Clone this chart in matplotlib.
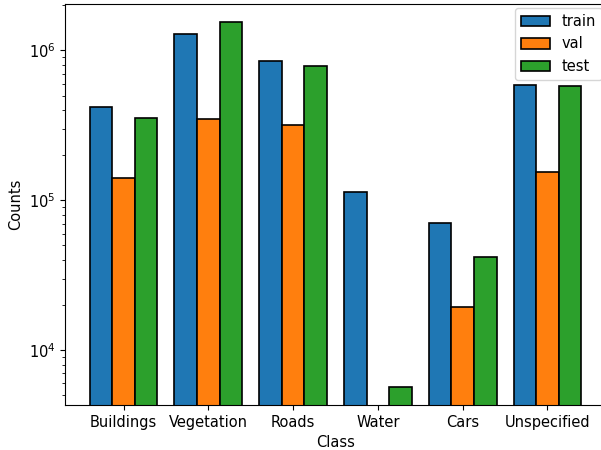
import numpy as np
import matplotlib
matplotlib.use("Agg")
import matplotlib.pyplot as plt

classes = ["Buildings", "Vegetation", "Roads", "Water", "Cars", "Unspecified"]
train = [421000, 1280000, 845000, 113000, 70300, 590000]
val = [141600, 351000, 319000, 0, 19560, 153700]
test = [354000, 1545000, 782000, 5710, 42100, 581000]

plt.rcParams['font.size'] = 10.5
fig = plt.figure(figsize=(6.01, 4.5), dpi=100)
ax = fig.add_axes([65/601, 45/450, 541/601, 401/450])

x = np.arange(len(classes))
w = 0.8 / 3
for i, (vals, lab, col) in enumerate([(train, "train", "#1f77b4"), (val, "val", "#ff7f0e"), (test, "test", "#2ca02c")]):
    v = np.array(vals, dtype=float)
    v[v <= 0] = np.nan
    ax.bar(x + (i - 1) * w, v, width=w, color=col, edgecolor="black", linewidth=1.2, label=lab)

ax.set_yscale("log")
ax.set_ylim(4310, 2.04e6)
ax.set_xlim(-0.69, 5.69)
ax.set_xticks(x)
ax.set_xticklabels(classes)
ax.set_xlabel("Class")
ax.set_ylabel("Counts")
ax.legend(loc="upper right", borderaxespad=0.3)

fig.savefig("out.png", dpi=100)
